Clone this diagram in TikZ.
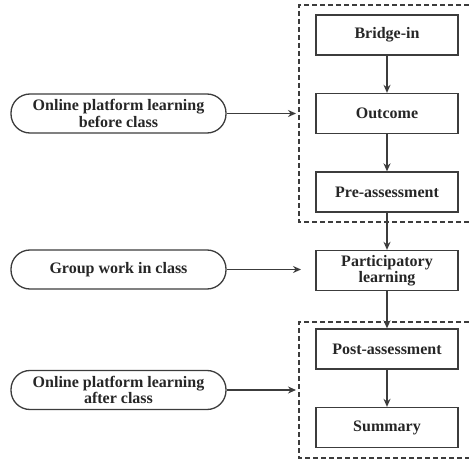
\documentclass[tikz,border=0pt]{standalone}
\usepackage{fontspec}
\setmainfont{Liberation Serif}
\usetikzlibrary{arrows.meta}
\definecolor{ln}{HTML}{3C3C3C}
\begin{document}
\begin{tikzpicture}[x=1pt,y=-1pt,
  lbl/.style={font=\fontsize{16}{16.5}\selectfont\bfseries,text=black!85},
  stepbox/.style={lbl,draw=ln,line width=1.3pt,minimum width=142pt,minimum height=40pt,inner sep=0pt,align=center},
  pill/.style={lbl,draw=ln,line width=1.3pt,rounded corners=19pt,minimum width=215pt,minimum height=39pt,inner sep=0pt,align=center},
  conn/.style={draw=ln,line width=1.3pt,-{Stealth[length=8pt,width=7pt]}},
  grp/.style={draw=ln,line width=1.3pt,dash pattern=on 5pt off 3pt}]
\useasboundingbox (0,0) rectangle (469,460);
% dashed groups
\draw[grp] (469,5) -- (299,5) -- (299,222) -- (469,222);
\draw[grp] (469,322) -- (299,322) -- (299,458) -- (469,458);
% step boxes
\node[stepbox] (bridge) at (387,35) {Bridge-in};
\node[stepbox] (outcome) at (387,113.5) {Outcome};
\node[stepbox] (pre) at (387,192) {Pre-assessment};
\node[stepbox] (part) at (387,270.5) {Participatory\\learning};
\node[stepbox] (post) at (387,349) {Post-assessment};
\node[stepbox] (summ) at (387,427.5) {Summary};
% pills
\node[pill] (p1) at (118.5,113.5) {Online platform learning\\before class};
\node[pill] (p2) at (118.5,269.5) {Group work in class};
\node[pill] (p3) at (118.5,390) {Online platform learning\\after class};
% arrow ends
\coordinate (e1) at (296,113.5);
\coordinate (e2) at (301,269.5);
\coordinate (e3) at (296,390);
% vertical connectors
\draw[conn] (bridge) -- (outcome);
\draw[conn] (outcome) -- (pre);
\draw[conn] (pre) -- (part);
\draw[conn] (part) -- (post);
\draw[conn] (post) -- (summ);
% horizontal connectors
\draw[conn] (p1) -- (e1);
\draw[conn] (p2) -- (e2);
\draw[conn] (p3) -- (e3);
\end{tikzpicture}
\end{document}
